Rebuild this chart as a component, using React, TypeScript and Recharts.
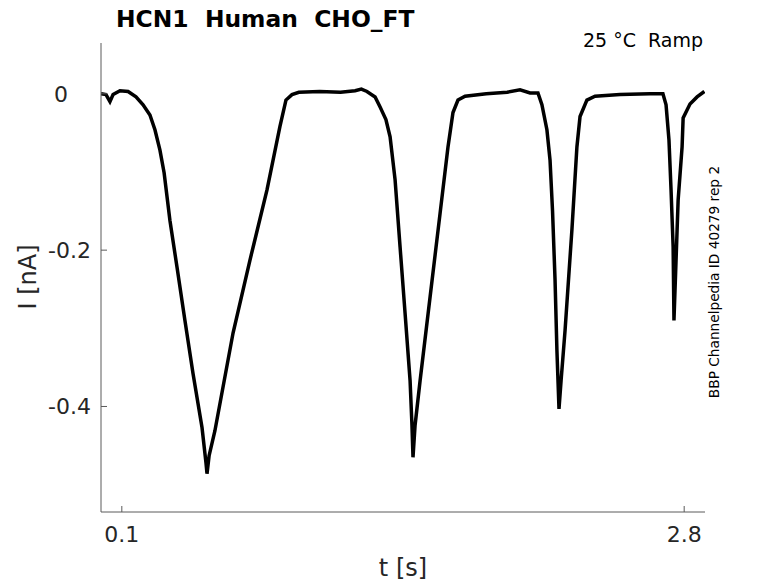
import { Line, LineChart, XAxis, YAxis } from "recharts";

// time points [s]
const times = [
  0, 0.024, 0.043, 0.058, 0.091, 0.13, 0.168, 0.202, 0.235, 0.259, 0.283, 0.303, 0.331, 0.365, 0.403, 0.442,
  0.485, 0.504, 0.509, 0.519, 0.547, 0.634, 0.715, 0.797, 0.859, 0.888, 0.917, 0.95, 1.05, 1.15, 1.22, 1.25,
  1.277, 1.316, 1.34, 1.368, 1.388, 1.412, 1.436, 1.46, 1.484, 1.493, 1.498, 1.508, 1.532, 1.58, 1.628, 1.666,
  1.69, 1.714, 1.748, 1.85, 1.95, 2.012, 2.06, 2.098, 2.117, 2.141, 2.156, 2.168, 2.18, 2.189, 2.199, 2.209, 2.228,
  2.261, 2.285, 2.3, 2.333, 2.372, 2.492, 2.636, 2.698, 2.713, 2.727, 2.737, 2.747, 2.751, 2.761, 2.771, 2.79,
  2.795, 2.828, 2.862, 2.897,
];

// current [nA]
const current = [
  0, -0.001, -0.01, -0.001, 0.004, 0.003, -0.004, -0.014, -0.027, -0.046, -0.072, -0.101, -0.162, -0.222, -0.29, -0.358,
  -0.427, -0.472, -0.486, -0.463, -0.431, -0.306, -0.213, -0.123, -0.042, -0.008, -0.001, 0.002, 0.003, 0.002, 0.004, 0.006,
  0.003, -0.004, -0.017, -0.033, -0.055, -0.11, -0.196, -0.281, -0.367, -0.424, -0.465, -0.424, -0.367, -0.26, -0.153, -0.068,
  -0.024, -0.008, -0.003, 0.0, 0.002, 0.005, 0.001, 0.001, -0.014, -0.046, -0.085, -0.15, -0.238, -0.328, -0.403, -0.367, -0.303,
  -0.174, -0.068, -0.029, -0.008, -0.003, -0.001, 0.0, 0.0, -0.014, -0.059, -0.123, -0.196, -0.29, -0.213, -0.136, -0.068,
  -0.031, -0.013, -0.004, 0.003,
];

const xTicks = [0.1, 2.8];
const yTicks = [0, -0.2, -0.4];

const data = times.map((t, i) => ({ t, i: current[i] }));

const axisColor = "#5a5a5a";
const textColor = "#262626";
const font = "DejaVu Sans";

const XTick = (props: any) => {
  const { x, y, payload } = props;
  return (
    <g>
      <line x1={x} y1={y} x2={x} y2={y - 6} stroke={axisColor} />
      <text x={x} y={y + 30} textAnchor="middle" fontSize={22} fontFamily={font} fill={textColor}>
        {payload.value}
      </text>
    </g>
  );
};

const YTick = (props: any) => {
  const { x, y, payload } = props;
  const off = payload.value === 0 ? 33 : 10;
  return (
    <g>
      <line x1={x} y1={y} x2={x + 6} y2={y} stroke={axisColor} />
      <text x={x - off} y={y + 8} textAnchor="end" fontSize={22} fontFamily={font} fill={textColor}>
        {payload.value}
      </text>
    </g>
  );
};

export default function App() {
  return (
    <div style={{ position: "absolute", left: 0, top: 0, width: 778, height: 583, background: "#fff" }}>
      <LineChart width={778} height={583} data={data} margin={{ top: 43, right: 73, bottom: 70, left: 100 }}>
        <XAxis
          dataKey="t"
          type="number"
          domain={[0, 2.9]}
          ticks={xTicks}
          allowDataOverflow
          height={1}
          tickSize={0}
          tickMargin={0}
          tickLine={false}
          axisLine={{ stroke: axisColor }}
          tick={XTick}
          interval={0}
        />
        <YAxis
          type="number"
          domain={[-0.535, 0.065]}
          ticks={yTicks}
          allowDataOverflow
          width={1}
          tickSize={0}
          tickMargin={0}
          tickLine={false}
          axisLine={{ stroke: axisColor }}
          tick={YTick}
          interval={0}
        />
        <Line dataKey="i" type="linear" stroke="#000" strokeWidth={3.5} dot={false} isAnimationActive={false} />
      </LineChart>
      <svg width={778} height={583} style={{ position: "absolute", left: 0, top: 0, pointerEvents: "none" }}>
        <text x={116} y={27} fontSize={23.4} fontWeight="bold" fontFamily={font} fill="#000" style={{ whiteSpace: "pre" }}>
          {"HCN1  Human  CHO_FT"}
        </text>
        <text x={703} y={47} textAnchor="end" fontSize={19} fontFamily={font} fill="#000" style={{ whiteSpace: "pre" }}>
          {"25 °C  Ramp"}
        </text>
        <text x={403} y={576} textAnchor="middle" fontSize={24} fontFamily={font} fill={textColor}>
          t [s]
        </text>
        <text x={36} y={277} textAnchor="middle" fontSize={24} fontFamily={font} fill={textColor} transform="rotate(-90 36 277)">
          I [nA]
        </text>
        <text x={719} y={282} textAnchor="middle" fontSize={13.7} fontFamily={font} fill="#000" transform="rotate(-90 719 282)">
          BBP Channelpedia ID 40279 rep 2
        </text>
      </svg>
    </div>
  );
}
